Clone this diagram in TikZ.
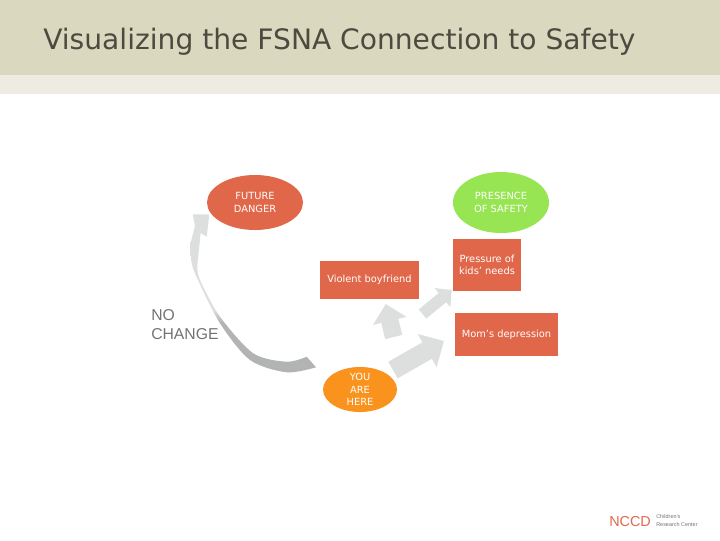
\documentclass[tikz,border=0pt]{standalone}
\usepackage{fontspec}
\setmainfont{DejaVu Sans}
\newfontfamily\arialfont{Liberation Sans}
\usetikzlibrary{shapes.geometric,arrows.meta}
\definecolor{band}{HTML}{DBD8C0}
\definecolor{strip}{HTML}{EEECE2}
\definecolor{titlecol}{HTML}{4B4B3F}
\definecolor{redbox}{HTML}{E1674A}
\definecolor{orangeb}{HTML}{FA931E}
\definecolor{greenb}{HTML}{97E553}
\definecolor{arrowgray}{HTML}{DDDFDF}
\definecolor{dkgray}{HTML}{B2B3B3}
\pgfdeclareverticalshading{crescentshade}{100bp}{color(0bp)=(dkgray); color(41bp)=(dkgray); color(45bp)=(arrowgray); color(100bp)=(arrowgray)}
\tikzset{
  lbl/.style={text=white,align=center,inner sep=0pt,font=\fontsize{7.4}{9.2}\selectfont},
  redell/.style={lbl,ellipse,fill=redbox},
  redrect/.style={lbl,rectangle,fill=redbox},
  fatarrow/.style={draw=arrowgray}
}
\begin{document}
\begin{tikzpicture}[x=0.75pt,y=-0.75pt]
\useasboundingbox (0,0) rectangle (720,540);
\fill[band] (0,0) rectangle (720,75);
\fill[strip] (0,75) rectangle (720,94);
\node[anchor=base west,inner sep=0pt,text=titlecol,font=\fontsize{21.1}{25}\selectfont] (title) at (43,49) {Visualizing the FSNA Connection to Safety};

\node[redell,minimum width=72pt,minimum height=41.25pt] (future) at (255,202.5) {FUTURE\\DANGER};
\node[lbl,ellipse,fill=greenb,minimum width=72pt,minimum height=45.75pt] (safety) at (501,202.5) {PRESENCE\\OF SAFETY};
\node[redrect,minimum width=51pt,minimum height=39pt] (kids) at (487,265) {Pressure of\\kids’ needs};
\node[redrect,minimum width=74.25pt,minimum height=28.5pt] (boy) at (369.5,280) {\raisebox{-1pt}{Violent boyfriend}};
\node[redrect,minimum width=77.25pt,minimum height=32.25pt] (mom) at (506.5,334.5) {\raisebox{-1pt}{Mom’s depression}};
\node[lbl,ellipse,fill=orangeb,minimum width=55.5pt,minimum height=33.75pt] (you) at (360,389.5) {YOU\\ARE\\HERE};

\coordinate (a1s) at (393,370);
\coordinate (a1e) at (444,341);
\coordinate (a2s) at (393.7,337);
\coordinate (a2e) at (385.7,304);
\coordinate (a3s) at (422.5,314);
\coordinate (a3e) at (451.7,290);
\draw[fatarrow,line width=14.25pt,-{Triangle[length=14.5pt,width=27.75pt,fill=arrowgray]}] (a1s) -- (a1e);
\draw[fatarrow,line width=13.2pt,-{Triangle[length=13pt,width=25pt,fill=arrowgray]}] (a2s) -- (a2e);
\draw[fatarrow,line width=8.9pt,-{Triangle[length=9pt,width=18pt,fill=arrowgray]}] (a3s) -- (a3e);

\shade[shading=crescentshade]
  plot[smooth] coordinates {(316,367.3) (286.7,372.3) (250,360) (220,323.3) (197,278) (191.5,262) (190,245)}
  -- (195,226) -- (192.7,214.3) -- (209.3,214.3) -- (206.7,236.7) -- (200.7,233)
  -- plot[smooth] coordinates {(197.3,265) (200,280) (220,316.7) (253.3,353.3) (286.7,361.7) (306.7,356.7)}
  -- cycle;

\node[anchor=north west,inner sep=0pt,align=left,text=black!55,font=\arialfont\fontsize{11.8}{14.3}\selectfont] (nochange) at (151,309.5) {NO\\CHANGE};

\node[anchor=base west,inner sep=0pt,text=redbox,font=\arialfont\fontsize{10.8}{12}\selectfont] (nccd) at (609,526) {NCCD};
\node[anchor=west,inner sep=0pt,align=left,text=black!55,font=\arialfont\fontsize{4.1}{5.6}\selectfont] (crc) at (656,520.5) {Children’s\\Research Center};
\end{tikzpicture}
\end{document}
